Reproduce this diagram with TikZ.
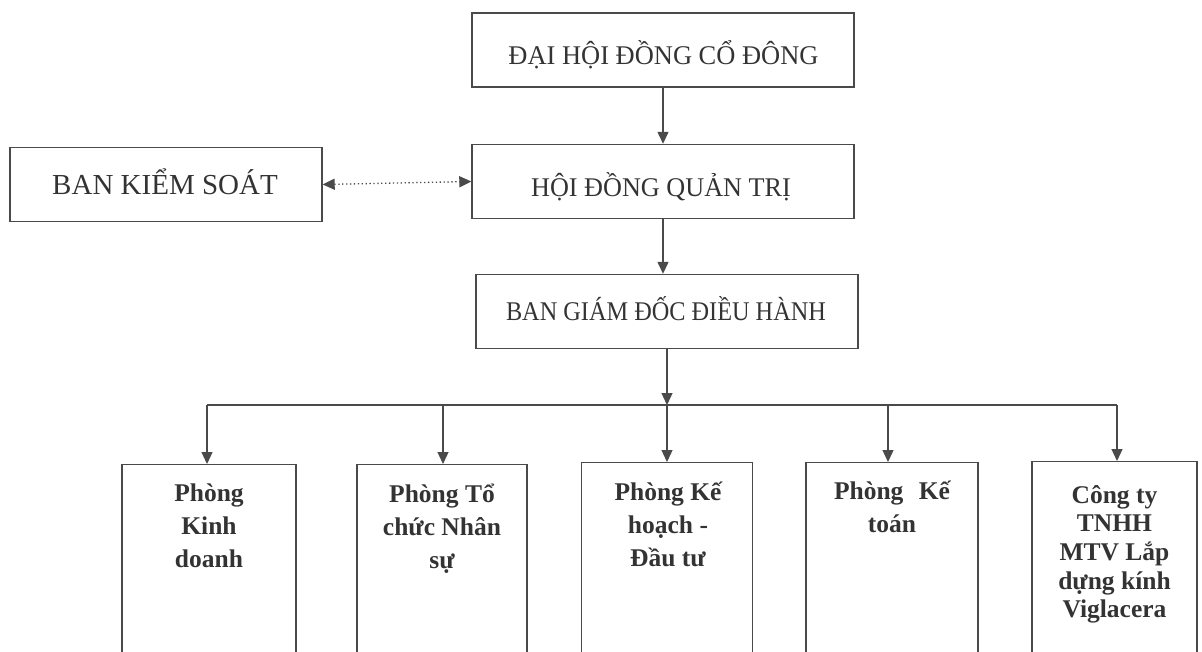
\documentclass[tikz,border=0pt]{standalone}
\usepackage{fontspec}
\usepackage{graphicx}
\setmainfont{Liberation Serif}
\usetikzlibrary{arrows.meta}
\definecolor{ink}{HTML}{4A4A4A}
\definecolor{txt}{HTML}{333333}
\begin{document}
\begin{tikzpicture}[x=1pt,y=-1pt,
  mainbox/.style={draw=ink, line width=1.4pt, minimum width=382pt, minimum height=74pt, inner sep=0pt},
  maintext/.style={anchor=base, inner sep=0pt, text=txt, font=\fontsize{27}{32}\selectfont},
  deptbox/.style={draw=ink, line width=1.4pt, minimum height=260pt, anchor=north, inner sep=0pt},
  depttext/.style={anchor=north, align=center, inner sep=0pt, text=txt,
    font=\bfseries\fontsize{25.5}{33}\selectfont},
  conn/.style={draw=ink, line width=1.3pt},
  arr/.style={conn, -{Triangle[length=12pt,width=11pt]}},
]
\useasboundingbox (0,0) rectangle (1202,652);
\clip (0,0) rectangle (1202,652);
% main boxes
\node[mainbox] (dhcd) at (663,50) {};
\node[mainbox] (hdqt) at (663,181.5) {};
\node[mainbox] (bgd) at (667,311.5) {};
\node[mainbox, minimum width=312pt] (bks) at (166,184.5) {};
\node[maintext] (dhcdT) at (663.5,65) {\scalebox{0.98}[1]{ĐẠI HỘI ĐỒNG CỔ ĐÔNG}};
\node[maintext] (hdqtT) at (661,197) {\scalebox{0.97}[1]{HỘI ĐỒNG QUẢN TRỊ}};
\node[maintext] (bgdT) at (666,320) {\scalebox{0.9}[1]{BAN GIÁM ĐỐC ĐIỀU HÀNH}};
\node[maintext, font=\fontsize{29}{34}\selectfont] (bksT) at (165,195) {BAN KIỂM SOÁT};
% department boxes
\node[deptbox, minimum width=174pt] (b1) at (209,464) {};
\node[deptbox, minimum width=170pt] (b2) at (442,464) {};
\node[deptbox, minimum width=171pt] (b3) at (667,462) {};
\node[deptbox, minimum width=172pt] (b4) at (892,462) {};
\node[deptbox, minimum width=165pt] (b5) at (1114.5,461) {};
\node[depttext] (t1) at (209,484) {Phòng\\Kinh\\doanh};
\node[depttext] (t2) at (442,484) {Phòng Tổ\\chức Nhân\\sự};
\node[depttext] (t3) at (668,482) {Phòng Kế\\hoạch -\\Đầu tư};
\node[depttext] (t4) at (892,481) {Phòng\hspace{0.35em} Kế\\toán};
\node[depttext, font=\bfseries\fontsize{25.5}{28.7}\selectfont] (t5) at (1114.5,485) {Công ty\\TNHH\\MTV Lắp\\dựng kính\\Viglacera};
% connectors
\draw[arr] (dhcd.south) -- (hdqt.north);
\draw[arr] (hdqt.south) -- (hdqt.south |- bgd.north);
\draw[conn, line width=1.3pt, dash pattern=on 1.3pt off 2.6pt, {Triangle[length=12pt,width=11pt]}-{Triangle[length=12pt,width=11pt]}] (bks.east) -- (hdqt.west);
\coordinate (busL) at (207,405);
\coordinate (busR) at (1117,405);
\coordinate (busM) at (bgd.south |- busL);
\draw[arr] (bgd.south) -- (busM);
\draw[conn] (busL) -- (busR);
\draw[arr] (busL) -- (busL |- b1.north);
\draw[arr] (443,405) -- (443,464);
\draw[arr] (busM) -- (b3.north);
\draw[arr] (888,405) -- (888,462);
\draw[arr] (busR) -- (busR |- b5.north);
\end{tikzpicture}
\end{document}
